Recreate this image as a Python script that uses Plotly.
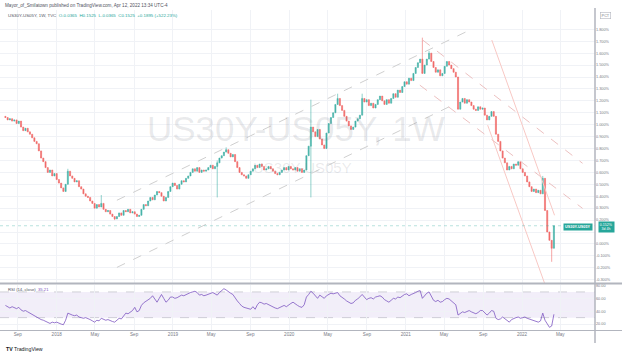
import plotly.graph_objects as go
import pandas as pd

# ---------------- data ----------------
start_week = "2017-07-24"          # first weekly candle
first_open = 1.07
last_open = -0.0365

closes = [
    1.06, 1.04, 1.05, 1.03, 1.04, 1.01, 1.03, 0.98, 0.95, 0.97,
    0.94, 0.92, 0.89, 0.86, 0.84, 0.78, 0.72, 0.69, 0.64, 0.60,
    0.62, 0.57, 0.59, 0.54, 0.51, 0.47, 0.44, 0.50, 0.61, 0.57,
    0.55, 0.52, 0.53, 0.48, 0.46, 0.42, 0.40, 0.39, 0.36, 0.34,
    0.30, 0.33, 0.31, 0.34, 0.29, 0.27, 0.28, 0.25, 0.23, 0.21,
    0.23, 0.26, 0.24, 0.28, 0.27, 0.29, 0.26, 0.27, 0.25, 0.23,
    0.24, 0.29, 0.33, 0.32, 0.36, 0.39, 0.37, 0.41, 0.44, 0.43,
    0.40, 0.36, 0.39, 0.44, 0.48, 0.51, 0.49, 0.46, 0.50, 0.53,
    0.52, 0.55, 0.57, 0.60, 0.63, 0.61, 0.64, 0.60, 0.62, 0.61,
    0.62, 0.64, 0.66, 0.63, 0.65, 0.68, 0.72, 0.74, 0.77, 0.79,
    0.76, 0.73, 0.75, 0.69, 0.64, 0.60, 0.58, 0.57, 0.55, 0.58,
    0.61, 0.63, 0.66, 0.64, 0.67, 0.65, 0.62, 0.63, 0.65, 0.63,
    0.61, 0.59, 0.58, 0.60, 0.62, 0.64, 0.62, 0.65, 0.63, 0.62,
    0.64, 0.61, 0.63, 0.60, 0.62, 0.74, 0.82, 0.98, 0.94, 0.90,
    0.96, 0.88, 0.83, 0.80, 0.93, 1.01, 1.06, 1.10, 1.17, 1.22,
    1.16, 1.12, 1.07, 1.03, 0.99, 0.96, 0.98, 1.03, 1.05, 1.08,
    1.22, 1.19, 1.21, 1.16, 1.18, 1.14, 1.17, 1.21, 1.24, 1.20,
    1.17, 1.21, 1.18, 1.22, 1.26, 1.23, 1.29, 1.27, 1.32, 1.36,
    1.34, 1.39, 1.37, 1.43, 1.48, 1.52, 1.55, 1.43, 1.50, 1.55,
    1.60, 1.53, 1.48, 1.44, 1.46, 1.41, 1.43, 1.49, 1.53, 1.50,
    1.47, 1.44, 1.40, 1.13, 1.19, 1.22, 1.18, 1.21, 1.19, 1.16,
    1.13, 1.12, 1.15, 1.13, 1.14, 1.08, 1.04, 1.07, 1.11, 1.07,
    0.92, 0.86, 0.78, 0.72, 0.68, 0.62, 0.65, 0.63, 0.67, 0.66,
    0.69, 0.63, 0.60, 0.57, 0.52, 0.48, 0.44, 0.46, 0.43, 0.45,
    0.42, 0.55, 0.28, 0.10, 0.03, -0.037, 0.1525,
]

high_wicks = {28: 0.63, 43: 0.41, 95: 0.70, 99: 0.81, 137: 1.21, 149: 1.26,
              160: 1.26, 187: 1.73, 190: 1.62, 241: 0.57}
low_wicks = {49: 0.20, 95: 0.39, 137: 0.39, 245: -0.15}

rsi_vals = [
    49, 47, 45, 47, 46, 44, 46, 42, 40, 41,
    39, 37, 34, 32, 31, 29, 27, 26, 24, 22,
    21, 23, 22, 23, 21, 20, 19, 26, 37, 35,
    34, 33, 34, 31, 30, 29, 30, 29, 27, 25,
    23, 26, 25, 29, 28, 26, 27, 25, 24, 23,
    26, 29, 28, 33, 37, 36, 38, 41, 46, 39,
    41, 49, 53, 55, 57, 60, 64, 58, 54, 60,
    66, 60, 54, 57, 62, 62, 60, 61, 63, 65,
    64, 66, 68, 69, 70, 71, 69, 65, 66, 64,
    65, 66, 67, 69, 67, 65, 69, 72, 75, 73,
    70, 68, 66, 60, 56, 52, 48, 46, 45, 44,
    43, 47, 43, 50, 54, 53, 51, 52, 50, 48,
    47, 45, 44, 46, 48, 49, 47, 50, 52, 54,
    51, 49, 47, 46, 50, 62, 66, 71, 68, 64,
    60, 65, 62, 60, 64, 66, 68, 67, 68, 69,
    64, 62, 59, 56, 54, 52, 53, 57, 59, 62,
    66, 62, 58, 60, 61, 59, 62, 63, 64, 62,
    58, 56, 54, 57, 60, 59, 62, 61, 64, 66,
    67, 64, 66, 67, 69, 71, 72, 60, 64, 68,
    70, 63, 57, 55, 57, 54, 55, 58, 60, 59,
    56, 52, 50, 34, 37, 39, 38, 40, 41, 39,
    37, 36, 38, 41, 41, 38, 34, 37, 41, 40,
    29, 27, 28, 31, 28, 25, 23, 27, 29, 30,
    31, 29, 30, 31, 29, 28, 27, 26, 24, 23,
    25, 37, 26, 20, 15, 17, 35.21,
]

x_tick_dates = ["2017-09-01", "2018-01-01", "2018-05-01", "2018-09-01",
                "2019-01-01", "2019-05-01", "2019-09-01", "2020-01-01",
                "2020-05-01", "2020-09-01", "2021-01-01", "2021-05-01",
                "2021-09-01", "2022-01-01", "2022-05-01"]
x_tick_text = ["Sep", "2018", "May", "Sep", "2019", "May", "Sep", "2020",
               "May", "Sep", "2021", "May", "Sep", "2022", "May"]

price_ticks = [-0.3, -0.2, -0.1, 0.0, 0.1, 0.2, 0.3, 0.4, 0.5, 0.6, 0.7,
               0.8, 0.9, 1.0, 1.1, 1.2, 1.3, 1.4, 1.5, 1.6, 1.7, 1.8]
price_tick_text = ["-0.300%", "-0.200%", "-0.100%", "0.000%", "", "0.200%",
                   "0.300%", "0.400%", "0.500%", "0.600%", "0.700%", "0.800%",
                   "0.900%", "1.000%", "1.100%", "1.200%", "1.300%", "1.400%",
                   "1.500%", "1.600%", "1.700%", "1.800%"]
rsi_ticks = [20, 40, 60, 80]
rsi_tick_text = ["20.00", "40.00", "60.00", "80.00"]

# chart drawings: (date0, price0, date1, price1, color, dash)
trend_lines = [
    ("2018-07-09", 0.366, "2021-07-21", 1.794, "#cfcfcf", "dash"),
    ("2018-07-09", -0.197, "2021-06-10", 1.181, "#cfcfcf", "dash"),
    ("2021-02-23", 1.710, "2022-07-10", 0.676, "#ecc0c0", "dash"),
    ("2021-02-14", 1.332, "2022-07-10", 0.298, "#ecc0c0", "dash"),
    ("2021-09-28", 1.710, "2022-04-13", 0.240, "#f8c8c4", "solid"),
    ("2021-09-15", 0.996, "2022-03-13", -0.332, "#f8c8c4", "solid"),
]

# ---------------- build ----------------
UP = "#26a69a"
DOWN = "#ef5350"
AXIS_TXT = "#787b86"
GRID = "#f0f2f6"
FONT = "Liberation Sans, Arial, sans-serif"

dates = pd.date_range(start_week, periods=len(closes), freq="7D")
opens = [first_open] + closes[:-1]
opens[-1] = last_open
highs = [max(o, c) for o, c in zip(opens, closes)]
lows = [min(o, c) for o, c in zip(opens, closes)]
for k, v in high_wicks.items():
    highs[k] = v
for k, v in low_wicks.items():
    lows[k] = v

fig = go.Figure()
fig.add_trace(go.Candlestick(
    x=dates, open=opens, high=highs, low=lows, close=closes,
    increasing=dict(line=dict(color=UP, width=0.6), fillcolor=UP),
    decreasing=dict(line=dict(color=DOWN, width=0.6), fillcolor=DOWN),
    xaxis="x", yaxis="y", hoverinfo="skip", whiskerwidth=0, opacity=0.85,
))
fig.add_trace(go.Scatter(
    x=dates, y=rsi_vals, mode="lines", line=dict(color="#7e57c2", width=0.8),
    xaxis="x", yaxis="y2", hoverinfo="skip",
))

W_PLOT = 595.0
TOP, BOT = 10.0, 330.0


def px(x):
    return x / W_PLOT


def py(y):
    return (BOT - y) / (BOT - TOP)


shapes = []
for d0, p0, d1, p1, col, dash in trend_lines:
    shapes.append(dict(type="line", xref="x", yref="y", x0=d0, y0=p0, x1=d1, y1=p1,
                       line=dict(color=col, width=1, dash=dash), layer="above"))
# RSI band
shapes.append(dict(type="rect", xref="x domain", yref="y2", x0=0, x1=1, y0=30, y1=70,
                   fillcolor="rgba(126,87,194,0.10)", line=dict(width=0), layer="below"))
for lvl in (30, 70):
    shapes.append(dict(type="line", xref="x domain", yref="y2", x0=0, x1=1, y0=lvl, y1=lvl,
                       line=dict(color="rgba(120,123,134,0.40)", width=0.8, dash="dash"),
                       layer="below"))
# current price line
shapes.append(dict(type="line", xref="x domain", yref="y", x0=0, x1=1,
                   y0=closes[-1], y1=closes[-1],
                   line=dict(color="rgba(38,166,154,0.40)", width=0.8, dash="dot")))
# frame lines
shapes.append(dict(type="line", xref="paper", yref="paper", x0=1, x1=1, y0=py(343), y1=py(8),
                   line=dict(color="#b2b5be", width=1.5)))
shapes.append(dict(type="line", xref="paper", yref="paper", x0=0, x1=px(622), y0=py(283.5), y1=py(283.5),
                   line=dict(color="#b2b5be", width=2)))
shapes.append(dict(type="line", xref="paper", yref="paper", x0=0, x1=px(622), y0=py(330.5), y1=py(330.5),
                   line=dict(color="#b2b5be", width=1)))

annotations = [
    dict(text="Mayor_of_Smilatown published on TradingView.com, Apr 12, 2022 13:34 UTC-4",
         x=px(3), y=py(5), xanchor="left", yanchor="middle",
         font=dict(size=4.6, color="#50535e")),
    dict(text="US30Y-US05Y, 1W, TVC  <span style='color:#26a69a'>O-0.0365  H0.1525  "
              "L-0.0365  C0.1525  +0.1895 (+522.23%)</span>",
         x=px(6), y=py(15), xanchor="left", yanchor="middle",
         font=dict(size=4.4, color="#50535e")),
    dict(text="US30Y-US05Y, 1W", x=px(296), y=py(128), xanchor="center", yanchor="middle",
         font=dict(size=35, color="rgba(120,123,134,0.16)")),
    dict(text="US30Y-US05Y", x=px(302), y=py(167), xanchor="center", yanchor="middle",
         font=dict(size=15, color="rgba(120,123,134,0.16)")),
    dict(text="RSI (14, close)  <span style='color:#7e57c2'>35.21</span>",
         x=px(6), y=py(289), xanchor="left", yanchor="middle",
         font=dict(size=4.2, color="#50535e")),
    dict(text="<b>US30Y-US05Y</b>", x=px(578), y=py(227), xanchor="center", yanchor="middle",
         font=dict(size=3.8, color="white"), bgcolor=UP, borderpad=1),
    dict(text="0.152%<br>3d 4h", x=px(606), y=py(227), xanchor="center", yanchor="middle",
         font=dict(size=3.6, color="white"), bgcolor=UP, borderpad=0.8),
    dict(text="PCT", x=px(605), y=py(15), xanchor="center", yanchor="middle",
         font=dict(size=3.8, color=AXIS_TXT), bordercolor="#b2b5be", borderwidth=0.6,
         borderpad=1, bgcolor="white"),
    dict(text="<b>TV</b> TradingView", x=px(4), y=py(349), xanchor="left", yanchor="middle",
         font=dict(size=5.2, color="#131722")),
]
for a in annotations:
    a.update(xref="paper", yref="paper", showarrow=False)

fig.update_layout(
    width=624, height=356,
    margin=dict(l=0, r=29, t=10, b=26),
    paper_bgcolor="white", plot_bgcolor="white",
    showlegend=False, hovermode=False,
    font=dict(family=FONT, size=5, color=AXIS_TXT),
    xaxis=dict(type="date", range=["2017-07-07", "2022-08-18"], anchor="y2",
               tickvals=x_tick_dates, ticktext=x_tick_text, ticks="",
               showgrid=True, gridcolor=GRID, gridwidth=1, zeroline=False,
               showline=False, tickfont=dict(size=4.6, color=AXIS_TXT),
               rangeslider=dict(visible=False), fixedrange=True),
    yaxis=dict(domain=[py(283.5), 1], range=[-0.332, 1.962], side="right", anchor="x",
               tickvals=price_ticks, ticktext=price_tick_text, ticks="",
               showgrid=True, gridcolor=GRID, gridwidth=1, zeroline=False,
               showline=False, tickfont=dict(size=3.8, color=AXIS_TXT)),
    yaxis2=dict(domain=[0, py(284.5)], range=[10.8, 81.5], side="right", anchor="x",
                tickvals=rsi_ticks, ticktext=rsi_tick_text, ticks="",
                showgrid=True, gridcolor=GRID, gridwidth=1, zeroline=False,
                showline=False, tickfont=dict(size=3.8, color=AXIS_TXT)),
    shapes=shapes,
    annotations=annotations,
)

fig.write_html("out.html", config={"displayModeBar": False, "staticPlot": True},
               post_script="document.body.style.margin='0';")
